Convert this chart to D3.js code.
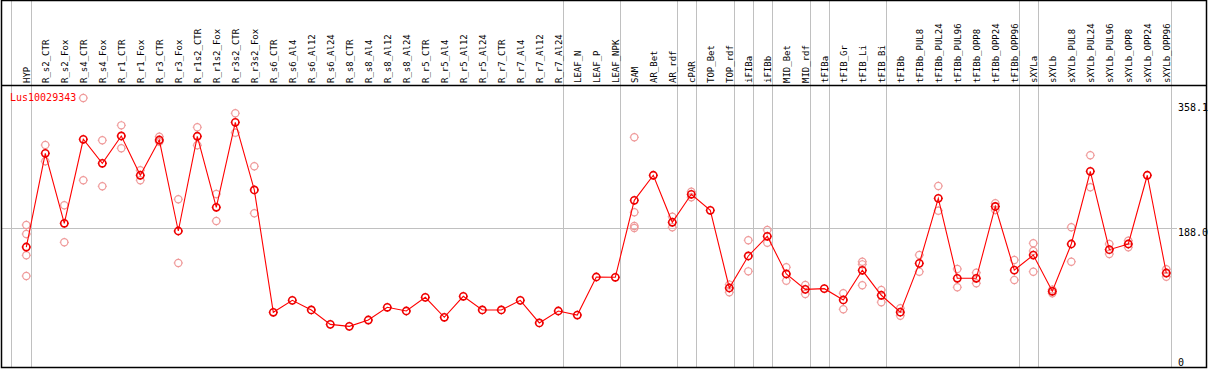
<!DOCTYPE html>
<html>
<head>
<meta charset="utf-8">
<style>
body { margin: 0; background: #fff; }
svg { display: block; }
.hdr { font-family: "DejaVu Sans Mono", monospace; font-size: 9px; fill: #000; }
.ylab { font-family: "DejaVu Sans Mono", monospace; font-size: 10px; fill: #000; }
</style>
</head>
<body>
<svg id="chart"></svg>
<script src="https://d3js.org/d3.v7.min.js"></script>
<script>

var categories = ["HYP","R_s2_CTR","R_s2_Fox","R_s4_CTR","R_s4_Fox","R_r1_CTR","R_r1_Fox","R_r3_CTR","R_r3_Fox",
  "R_r1s2_CTR","R_r1s2_Fox","R_r3s2_CTR","R_r3s2_Fox","R_s6_CTR","R_s6_Al4","R_s6_Al12","R_s6_Al24",
  "R_s8_CTR","R_s8_Al4","R_s8_Al12","R_s8_Al24","R_r5_CTR","R_r5_Al4","R_r5_Al12","R_r5_Al24",
  "R_r7_CTR","R_r7_Al4","R_r7_Al12","R_r7_Al24","LEAF_N","LEAF_P","LEAF_NPK","SAM","AR_Bet","AR_rdf",
  "cPAR","TOP_Bet","TOP_rdf","iFIBa","iFIBb","MID_Bet","MID_rdf","tFIBa","tFIB_Gr","tFIB_Li","tFIB_Bi",
  "tFIBb","tFIBb_PUL8","tFIBb_PUL24","tFIBb_PUL96","tFIBb_OPP8","tFIBb_OPP24","tFIBb_OPP96",
  "sXYLa","sXYLb","sXYLb_PUL8","sXYLb_PUL24","sXYLb_PUL96","sXYLb_OPP8","sXYLb_OPP24","sXYLb_OPP96"];

var meanValues = [162.0, 289.6, 194.3, 308.7, 276.0, 313.2, 259.7, 307.7, 183.8,
  312.8, 216.1, 331.8, 239.7, 73.1, 89.4, 76.3, 56.7,
  54.0, 62.6, 79.9, 74.9, 93.5, 66.3, 94.9, 76.3,
  76.3, 89.4, 58.6, 74.9, 69.4, 121.2, 120.8, 225.6, 259.7, 195.7,
  233.8, 212.0, 106.2, 149.8, 176.6, 125.3, 104.4, 105.3, 89.9, 130.3, 96.3,
  73.3, 139.8, 228.3, 119.4, 119.4, 217.2, 130.5,
  151.1, 101.7, 166.1, 265.1, 158.4, 166.1, 259.7, 126.6];

var replicates = [[192.0, 179.7, 150.7, 122.5], [300.9, 278.7], [218.8, 168.4], [364.9, 252.9], [307.3, 244.7],
  [327.7, 296.4], [266.5, 252.9], [312.2, 305.4], [227.0, 140.3],
  [325.0, 300.5], [234.2, 197.4], [344.1, 317.7], [271.9, 207.9], [], [], [], [],
  [], [], [], [], [], [], [], [],
  [], [], [], [], [], [], [], [311.4, 209.3, 190.6, 187.9], [], [203.3, 188.9],
  [237.3, 229.7], [], [110.8, 100.4], [171.2, 128.9], [185.2, 167.9], [134.4, 116.2], [110.3, 98.0], [], [99.0, 77.2], [142.0, 138.4, 109.9], [103.5, 86.9],
  [78.6, 68.5], [151.1, 128.4], [245.1, 211.5], [132.1, 107.2], [127.0, 112.6], [221.5, 212.4], [144.3, 117.1],
  [167.1, 156.6, 128.4], [104.0, 99.0], [188.9, 142.0], [286.9, 243.3], [166.1, 152.5], [170.6, 161.6], [], [131.7, 121.6]];

// separators drawn right after these columns
var groupEnds = ["HYP", "R_r7_Al24", "LEAF_NPK", "AR_rdf", "cPAR", "TOP_rdf", "iFIBa", "iFIBb",
  "MID_rdf", "tFIBa", "tFIB_Bi", "tFIBb_OPP96", "sXYLa", "sXYLb_OPP96"];

var yTicks = [358.1, 188.0, 0];
var seriesName = "Lus10029343";

var width = 1209, height = 370;
var headerBottom = 85.5;

var svg = d3.select("#chart").attr("width", width).attr("height", height);

var x = d3.scalePoint().domain(categories).range([26.3, 26.3 + 19 * (categories.length - 1)]);
var y = d3.scaleLinear().domain([0, 358.1]).range([366, 103]);

function px(v) { return Math.round(v) + 0.5; }

// vertical group separators
var sepX = [x(categories[0]) - 15.6].concat(groupEnds.map(function(c) { return x(c) + 4.4; }));
svg.append("g").selectAll("line").data(sepX).enter().append("line")
    .attr("x1", function(d) { return px(d); })
    .attr("x2", function(d) { return px(d); })
    .attr("y1", 0).attr("y2", 368)
    .attr("stroke", "#c0c0c0").attr("stroke-width", 1);

// horizontal gridline at middle tick
svg.append("line")
    .attr("x1", 2).attr("x2", 1177)
    .attr("y1", px(y(188.0))).attr("y2", px(y(188.0)))
    .attr("stroke", "#c0c0c0");

// header labels
svg.append("g").selectAll("text").data(categories).enter().append("text")
    .attr("class", "hdr")
    .attr("transform", function(d) { return "translate(" + (x(d) + 3.5) + ",83) rotate(-90)"; })
    .text(function(d) { return d; });

// frame
svg.append("rect").attr("x", 1.5).attr("y", 0.5).attr("width", 1205).attr("height", 367)
    .attr("fill", "none").attr("stroke", "#000").attr("stroke-width", 1.5);
svg.append("line").attr("x1", 1).attr("x2", 1207).attr("y1", headerBottom).attr("y2", headerBottom)
    .attr("stroke", "#000").attr("stroke-width", 1.5);

// right value labels
svg.append("g").selectAll("text").data(yTicks).enter().append("text")
    .attr("class", "ylab")
    .attr("x", 1178)
    .attr("y", function(d) { return d === 0 ? y(d) : y(d) + 8; })
    .text(function(d) { return d === 0 ? "0" : d.toFixed(1); });

// legend
svg.append("text").attr("x", 10).attr("y", 101)
    .attr("font-family", "DejaVu Sans Mono, monospace").attr("font-size", "10px")
    .attr("fill", "#ff0000").text(seriesName);

function marker(g, color, sw) {
  g.append("circle").attr("r", 3.6).attr("fill", "none").attr("stroke", color).attr("stroke-width", sw);
  [[0, -1], [0, 1], [-1, 0], [1, 0]].forEach(function(v) {
    g.append("line")
      .attr("x1", v[0] * 3.6).attr("y1", v[1] * 3.6)
      .attr("x2", v[0] * 4.6).attr("y2", v[1] * 4.6)
      .attr("stroke", color).attr("stroke-width", 1);
  });
}

// replicate points
var reps = [];
categories.forEach(function(c, i) {
  replicates[i].forEach(function(v) { reps.push({cat: c, v: v}); });
});
svg.append("g").selectAll("g").data(reps).enter().append("g")
    .attr("transform", function(d) { return "translate(" + x(d.cat) + "," + y(d.v) + ")"; })
    .each(function() { marker(d3.select(this), "#ef9a9a", 1.2); });

// mean line
var line = d3.line()
    .x(function(d, i) { return x(categories[i]); })
    .y(function(d) { return y(d); });
svg.append("path").datum(meanValues)
    .attr("d", line).attr("fill", "none").attr("stroke", "#ff0000").attr("stroke-width", 1.1);

svg.append("g").selectAll("g").data(meanValues).enter().append("g")
    .attr("transform", function(d, i) { return "translate(" + x(categories[i]) + "," + y(d) + ")"; })
    .each(function() { marker(d3.select(this), "#ee0000", 1.6); });

</script>
</body>
</html>
